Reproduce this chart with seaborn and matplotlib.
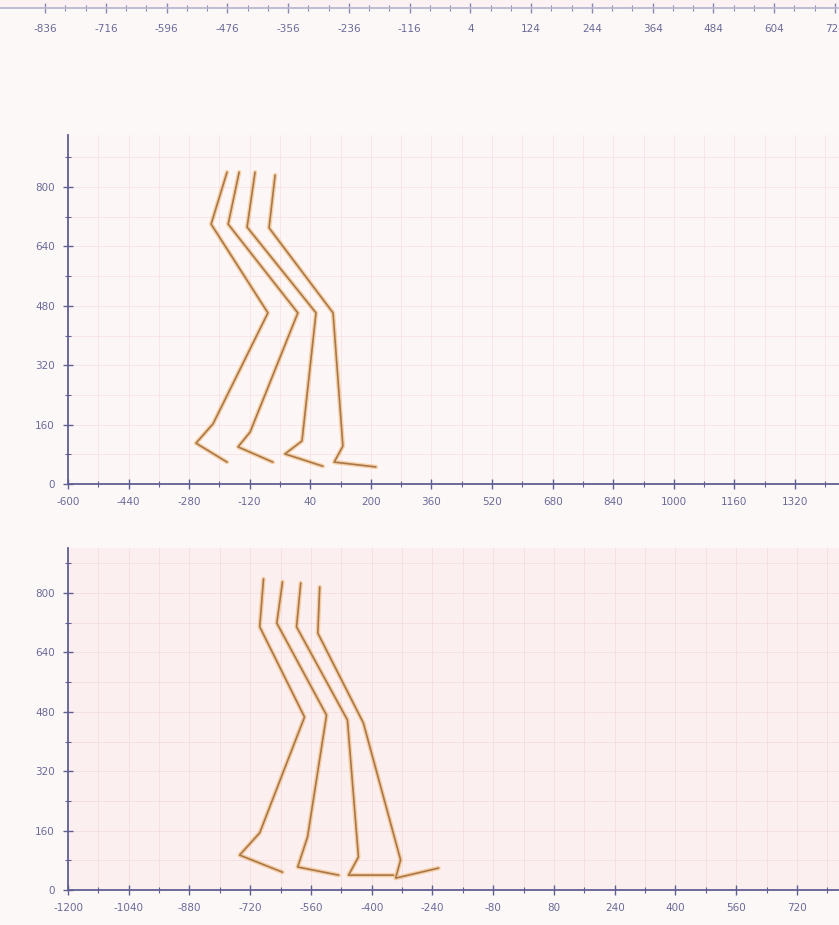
import numpy as np
import pandas as pd
import matplotlib
matplotlib.use("Agg")
import matplotlib.pyplot as plt
from matplotlib.ticker import MultipleLocator, FixedLocator
import seaborn as sns

# ----------------------------
# Leg stick-figure traces (x, y per joint: hip, thigh, knee, shin, heel, toe)
# ----------------------------
mid_leg1_x = [-180, -222, -72, -217, -262, -180]
mid_leg2_x = [-148, -177, 7, -119, -151, -59]
mid_leg3_x = [-106, -127, 55, 18, -27, 73]
mid_leg4_x = [-53, -69, 100, 126, 103, 213]
mid_leg1_y = [840, 700, 461, 162, 110, 59]
mid_leg2_y = [840, 700, 461, 140, 100, 59]
mid_leg3_y = [840, 692, 461, 116, 81, 48]
mid_leg4_y = [832, 690, 461, 102, 59, 46]

bot_leg1_x = [-685, -695, -577, -695, -748, -635]
bot_leg2_x = [-635, -650, -519, -569, -595, -487]
bot_leg3_x = [-587, -598, -464, -435, -461, -343]
bot_leg4_x = [-537, -542, -422, -324, -337, -224]
bot_leg1_y = [838, 709, 466, 154, 94, 48]
bot_leg2_y = [830, 719, 471, 143, 62, 40]
bot_leg3_y = [827, 709, 458, 89, 40, 40]
bot_leg4_y = [816, 692, 450, 81, 32, 59]

top_ticks = [-836, -716, -596, -476, -356, -236, -116, 4, 124, 244, 364, 484, 604, 724]
mid_xticks = [-600, -440, -280, -120, 40, 200, 360, 520, 680, 840, 1000, 1160, 1320]
bot_xticks = [-1200, -1040, -880, -720, -560, -400, -240, -80, 80, 240, 400, 560, 720, 880]
yticks = [0, 160, 320, 480, 640, 800]


def legs_frame(xs, ys):
    rows = []
    for i, (lx, ly) in enumerate(zip(xs, ys)):
        for j, (a, b) in enumerate(zip(lx, ly)):
            rows.append({"leg": i, "joint": j, "x": a, "y": b})
    return pd.DataFrame(rows)


mid_df = legs_frame([mid_leg1_x, mid_leg2_x, mid_leg3_x, mid_leg4_x],
                    [mid_leg1_y, mid_leg2_y, mid_leg3_y, mid_leg4_y])
bot_df = legs_frame([bot_leg1_x, bot_leg2_x, bot_leg3_x, bot_leg4_x],
                    [bot_leg1_y, bot_leg2_y, bot_leg3_y, bot_leg4_y])

sns.set_theme(style="white")
plt.rcParams["font.family"] = ["DejaVu Sans"]
plt.rcParams["axes.unicode_minus"] = False

AX = "#5f5f92"
TXT = "#6a6a98"

fig = plt.figure(figsize=(8.39, 9.25), dpi=100, facecolor="#fdf8f8")
W, H = 839.0, 925.0


def make_axes(left_px, right_px, bottom_py, top_py, face):
    ax = fig.add_axes([left_px / W, 1 - bottom_py / H,
                       (right_px - left_px) / W, (bottom_py - top_py) / H])
    ax.set_facecolor(face)
    for s in ["top", "right"]:
        ax.spines[s].set_visible(False)
    for s in ["left", "bottom"]:
        ax.spines[s].set_color(AX)
        ax.spines[s].set_linewidth(1.3)
    ax.tick_params(which="major", direction="inout", length=7, width=1.0,
                   color=AX, labelcolor=TXT, labelsize=7.5, pad=6)
    ax.tick_params(which="minor", direction="inout", length=4, width=0.8, color=AX)
    ax.tick_params(left=True, bottom=True, which="both")
    return ax


def draw_legs(ax, df):
    sns.lineplot(data=df, x="x", y="y", units="leg", estimator=None, sort=False,
                 color="#f2b46a", linewidth=3.2, alpha=0.55, ax=ax)
    sns.lineplot(data=df, x="x", y="y", units="leg", estimator=None, sort=False,
                 color="#a8784a", linewidth=1.2, ax=ax)
    ax.set_xlabel("")
    ax.set_ylabel("")


# ----------------------------
# Top panel (only its axis strip visible)
# ----------------------------
ax_top = make_axes(0, 839, 8, -200, "#fcf1f3")
ax_top.spines["left"].set_visible(False)
ax_top.spines["bottom"].set_color("#b8b8d0")
ax_top.set_xlim(-925, 732)
ax_top.set_ylim(0, 100)
ax_top.xaxis.set_major_locator(FixedLocator(top_ticks))
ax_top.xaxis.set_minor_locator(FixedLocator([t + d for t in top_ticks for d in (40, 80)]))
ax_top.set_xticklabels([str(t) for t in top_ticks])
ax_top.tick_params(axis="x", which="both", color="#8a8ab0", pad=8)
ax_top.set_yticks([])

# ----------------------------
# Middle panel
# ----------------------------
ax_mid = make_axes(68, 860, 484, 135, "#fdf6f6")
ax_mid.set_xlim(-600, -600 + (860 - 68) * 2.641)
ax_mid.set_ylim(0, (484 - 135) * 2.694)
ax_mid.xaxis.set_major_locator(FixedLocator(mid_xticks))
ax_mid.xaxis.set_minor_locator(MultipleLocator(80, offset=-600))
ax_mid.set_xticklabels([str(t) for t in mid_xticks])
ax_mid.yaxis.set_major_locator(FixedLocator(yticks))
ax_mid.yaxis.set_minor_locator(MultipleLocator(80))
ax_mid.set_yticklabels([str(t) for t in yticks])
ax_mid.grid(which="minor", color="#f6e2e6", linewidth=0.6)
ax_mid.grid(which="major", color="#f6e2e6", linewidth=0.6)
draw_legs(ax_mid, mid_df)

# ----------------------------
# Bottom panel
# ----------------------------
ax_bot = make_axes(68, 870, 890, 548, "#fcefef")
ax_bot.set_xlim(-1200, -1200 + (870 - 68) * 2.634)
ax_bot.set_ylim(0, (890 - 548) * 2.694)
ax_bot.xaxis.set_major_locator(FixedLocator(bot_xticks))
ax_bot.xaxis.set_minor_locator(MultipleLocator(80, offset=-1200))
ax_bot.set_xticklabels([str(t) for t in bot_xticks])
ax_bot.yaxis.set_major_locator(FixedLocator(yticks))
ax_bot.yaxis.set_minor_locator(MultipleLocator(80))
ax_bot.set_yticklabels([str(t) for t in yticks])
ax_bot.grid(which="minor", color="#f3dce1", linewidth=0.6)
ax_bot.grid(which="major", color="#f3dce1", linewidth=0.6)
draw_legs(ax_bot, bot_df)

plt.savefig("out.png", dpi=100, facecolor=fig.get_facecolor())
plt.close()
